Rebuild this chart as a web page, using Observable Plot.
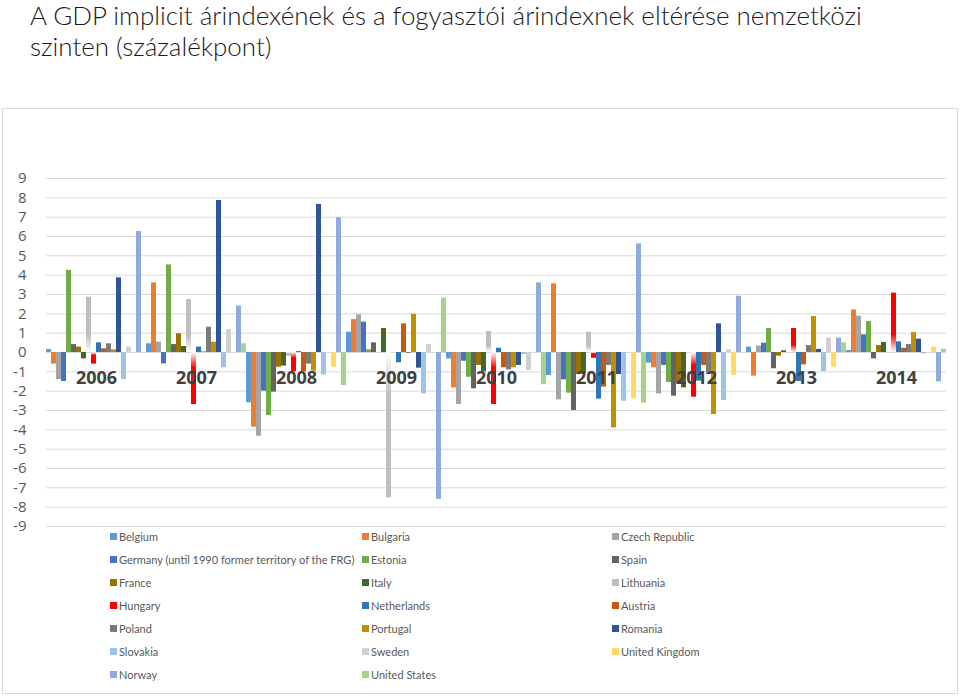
<!DOCTYPE html>
<html>
<head>
<meta charset="utf-8">
<script src="https://cdn.jsdelivr.net/npm/d3@7"></script>
<script src="https://cdn.jsdelivr.net/npm/@observablehq/plot@0.6"></script>
<style>
  body { margin: 0; background: #fff; }
  #wrap { position: relative; width: 960px; height: 696px; overflow: hidden; font-family: Lato, "Open Sans", sans-serif; }
  #title { position: absolute; left: 30px; top: 0px; color: #1a1a1a; font-weight: 300; white-space: nowrap; }
  #title div { height: 31px; line-height: 31px; font-size: 24px; }
  #box { position: absolute; left: 2px; top: 108px; width: 956px; height: 586px; border: 1px solid #D9D9D9; box-sizing: border-box; }
  #chart { position: absolute; left: 0; top: 160px; }
  #legend { position: absolute; left: 110px; top: 525px; display: grid; grid-template-columns: 252px 250px 200px; grid-auto-rows: 23px; font-size: 11px; color: #595959; font-family: Lato, "Open Sans", sans-serif; }
  #legend .it { display: flex; align-items: center; white-space: nowrap; }
  #legend .sw { width: 7px; height: 7px; margin-right: 2px; flex: none; }
</style>
</head>
<body>
<div id="wrap">
  <div id="box"></div>
  <div id="title"><div id="t1">A GDP implicit árindexének és a fogyasztói árindexnek eltérése nemzetközi</div><div id="t2">szinten (százalékpont)</div></div>
  <div id="chart"></div>
  <div id="legend"></div>
</div>
<script>
const years = ["2006", "2007", "2008", "2009", "2010", "2011", "2012", "2013", "2014"];
const countries = ["Belgium", "Bulgaria", "Czech Republic", "Germany (until 1990 former territory of the FRG)", "Estonia", "Spain", "France", "Italy", "Lithuania", "Hungary", "Netherlands", "Austria", "Poland", "Portugal", "Romania", "Slovakia", "Sweden", "United Kingdom", "Norway", "United States"];
const colors = ["#5B9BD5", "#ED7D31", "#A5A5A5", "#4472C4", "#70AD47", "#636363", "#997300", "#43682B", "#BFBFBF", "#FF0000", "#2E75B6", "#C55A11", "#7B7B7B", "#BF9000", "#2F5597", "#9DC3E6", "#D0D0D0", "#FFD966", "#8FAADC", "#A9D18E"];
const yTicks = [-9, -8, -7, -6, -5, -4, -3, -2, -1, 0, 1, 2, 3, 4, 5, 6, 7, 8, 9];

// values per country, 2006..2014
const belgium     = [0.15, 0.45, -2.6, 1.05, -0.33, -1.19, -0.55, 0.28, 0.1];
const bulgaria    = [-0.6, 3.6, -3.86, 1.7, -1.83, 3.55, -0.79, -1.22, 2.2];
const czech       = [-1.4, 0.53, -4.33, 1.95, -2.69, -2.45, -2.14, 0.33, 1.88];
const germany     = [-1.5, -0.59, -2.0, 1.57, -0.45, -1.41, -0.67, 0.48, 0.91];
const estonia     = [4.25, 4.53, -3.26, 0.14, -1.28, -2.1, -1.55, 1.24, 1.6];
const spain       = [0.41, 0.41, -2.05, 0.5, -1.88, -3.0, -2.26, -0.84, -0.33];
const france      = [0.28, 0.97, -0.76, 0, -0.67, -1.14, -1.62, -0.19, 0.36];
const italy       = [-0.33, 0.31, -0.7, 1.24, -1.0, -1.1, -1.83, 0.09, 0.52];
const lithuania   = [2.86, 2.74, -0.2, -7.52, 1.09, 1.05, 0, 0, 0];
const hungary     = [-0.6, -2.69, -1.0, 0, -2.69, -0.3, -2.31, 1.24, 3.07];
const netherlands = [0.5, 0.28, 0.05, -0.53, 0.22, -2.41, -1.48, -1.5, 0.55];
const austria     = [0.19, 0.03, -1.0, 1.48, -0.79, -1.79, -0.67, -0.64, 0.22];
const poland      = [0.45, 1.31, -0.6, -0.05, -0.9, -0.67, -1.14, 0.36, 0.41];
const portugal    = [0.14, 0.53, -0.97, 1.97, -0.79, -3.9, -3.21, 1.86, 1.03];
const romania     = [3.86, 7.86, 7.66, -0.81, -0.67, -1.14, 1.48, 0.16, 0.69];
const slovakia    = [-1.4, -0.79, -1.16, -2.14, -0.1, -2.52, -2.48, -0.98, -0.07];
const sweden      = [0.28, 1.19, 0, 0.41, -0.93, 0, 0.14, 0.74, 0];
const uk          = [0, 0, -0.76, 0, 0, -2.4, -1.19, -0.76, 0.28];
const norway      = [6.26, 2.4, 6.97, -7.6, 3.6, 5.62, 2.91, 0.74, -1.52];
const us          = [0, 0.45, -1.71, 2.81, -1.66, -2.62, 0, 0.5, 0.17];

const series = [belgium, bulgaria, czech, germany, estonia, spain, france, italy, lithuania, hungary, netherlands, austria, poland, portugal, romania, slovakia, sweden, uk, norway, us];

const data = [];
countries.forEach((c, i) => series[i].forEach((v, j) => data.push({year: years[j], country: c, value: v, color: colors[i]})));

const chart = Plot.plot({
  width: 960,
  height: 380,
  marginTop: 18,
  marginBottom: 14,
  marginLeft: 46,
  marginRight: 14,
  style: {fontFamily: "'Open Sans', sans-serif", fontSize: "15px", color: "#595959", background: "transparent"},
  fx: {domain: years, padding: 0, axis: null, label: null},
  x: {domain: countries, padding: 0, axis: null},
  y: {domain: [-9, 9], axis: null},
  marks: [
    Plot.gridY(yTicks, {stroke: "#D9D9D9", strokeOpacity: 1}),
    Plot.barY(data, {fx: "year", x: "country", y: "value", fill: "color"}),
    Plot.text(years, {fx: d => d, y: 0, text: d => d, dy: 26, fontWeight: "bold", fontSize: 18, fill: "#404040"}),
    Plot.axisY(yTicks, {tickSize: 0, tickPadding: 20, tickFormat: d => String(d), label: null, fontSize: 15, fill: "#595959"})
  ]
});
document.getElementById("chart").appendChild(chart);

// gradients for Hungary and Lithuania bars (fade to white at zero)
const svg = chart.tagName.toLowerCase() === "svg" ? chart : chart.querySelector("svg");
const ns = "http://www.w3.org/2000/svg";
const defs = document.createElementNS(ns, "defs");
function grad(id, col, pos) {
  const g = document.createElementNS(ns, "linearGradient");
  g.setAttribute("id", id); g.setAttribute("x1", "0"); g.setAttribute("y1", "0"); g.setAttribute("x2", "0"); g.setAttribute("y2", "1");
  const stops = pos ? [[0, col], [0.7, col], [1, "#ffffff"]] : [[0, "#ffffff"], [0.3, col], [1, col]];
  stops.forEach(([o, c]) => { const s = document.createElementNS(ns, "stop"); s.setAttribute("offset", o); s.setAttribute("stop-color", c); g.appendChild(s); });
  defs.appendChild(g);
}
grad("huPos", "#FF0000", true); grad("huNeg", "#FF0000", false);
grad("ltPos", "#BFBFBF", true); grad("ltNeg", "#BFBFBF", false);
svg.insertBefore(defs, svg.firstChild);
const y0 = chart.scale("y").apply(0);
svg.querySelectorAll("rect").forEach(r => {
  const f = (r.getAttribute("fill") || "").toUpperCase();
  if (f !== "#FF0000" && f !== "#BFBFBF") return;
  const y = +r.getAttribute("y"), h = +r.getAttribute("height");
  const pos = Math.abs(y + h - y0) < Math.abs(y - y0);
  const p = f === "#FF0000" ? "hu" : "lt";
  r.setAttribute("fill", `url(#${p}${pos ? "Pos" : "Neg"})`);
});

// legend
const leg = document.getElementById("legend");
countries.forEach((c, i) => {
  const it = document.createElement("div"); it.className = "it";
  const sw = document.createElement("span"); sw.className = "sw"; sw.style.background = colors[i];
  const tx = document.createElement("span"); tx.textContent = c;
  it.appendChild(sw); it.appendChild(tx); leg.appendChild(it);
});

// fit title width to reference
const t1 = document.getElementById("t1");
const sp = document.createElement("span"); sp.textContent = t1.textContent; sp.style.fontSize = "24px";
t1.textContent = ""; t1.appendChild(sp);
const w = sp.getBoundingClientRect().width;
const fs = 24 * 832 / w;
document.querySelectorAll("#title div").forEach(d => d.style.fontSize = fs + "px");
sp.style.fontSize = fs + "px";
</script>
</body>
</html>
